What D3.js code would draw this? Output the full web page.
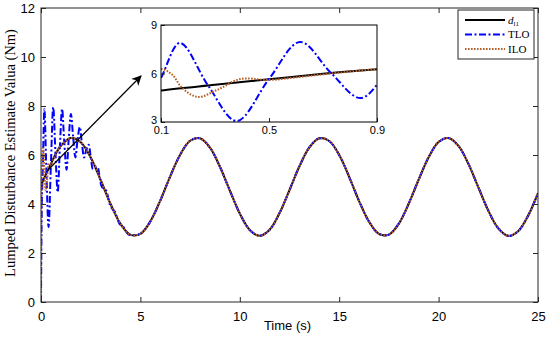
<!DOCTYPE html>
<html>
<head>
<meta charset="utf-8">
<script src="https://cdn.jsdelivr.net/npm/d3@7"></script>
<style>
  body { margin: 0; background: #fff; }
  svg { display: block; }
  .tick text { font-family: "Liberation Sans", Arial, sans-serif; fill: #000; }
  .tick line { stroke: #262626; }
</style>
</head>
<body>
<div id="vis"></div>
<script>
// 1. DATA ---------------------------------------------------------------------------------

// reference disturbance d_l1
const dTime  = [0, 0.1, 0.3, 0.5, 0.7, 0.9].concat(d3.range(1, 25.01, 0.5))
const dValue = [4.72, 4.95, 5.30, 5.64, 5.98, 6.27,
  6.38, 6.69, 6.52, 5.90, 4.98, 4.00, 3.19, 2.74, 2.78, 3.29,
  4.14, 5.13, 6.01, 6.58, 6.68, 6.30, 5.52, 4.55, 3.61, 2.94,
  2.70, 2.95, 3.63, 4.57, 5.54, 6.31, 6.68, 6.57, 6.00, 5.11,
  4.12, 3.28, 2.78, 2.75, 3.20, 4.02, 5.00, 5.91, 6.53, 6.69,
  6.37, 5.64, 4.68, 3.73, 3.01, 2.70, 2.89, 3.52, 4.44]

// TLO estimate, transient part (afterwards it sits on d)
const tloTime  = [0, 0.02, 0.05, 0.1, 0.17, 0.275, 0.38, 0.5, 0.615, 0.73, 0.84, 0.95,
  1.06, 1.17, 1.285, 1.395, 1.505, 1.62, 1.73, 1.84, 1.95, 2.06, 2.17, 2.28,
  2.395, 2.505, 2.615, 2.73, 2.84, 2.95, 3.06, 3.17, 3.285, 3.395, 3.505, 3.62,
  3.73, 3.84, 3.95, 4.06, 4.175, 4.285, 4.395, 4.5]
const tloValue = [0, 2.5, 4.3, 5.72, 7.89, 5.24, 3.06, 5.66, 7.95, 6.03, 4.48, 6.33,
  7.88, 6.54, 5.40, 6.67, 7.67, 6.70, 5.90, 6.63, 7.14, 6.46, 5.90, 6.22,
  6.42, 5.89, 5.42, 5.50, 5.51, 5.08, 4.70, 4.64, 4.54, 4.20, 3.89, 3.77,
  3.67, 3.40, 3.19, 3.11, 3.03, 2.88, 2.76, 2.74]

// ILO estimate, transient part
const iloTime  = [0, 0.01, 0.03, 0.06, 0.1, 0.14, 0.18, 0.237, 0.31, 0.393, 0.5, 0.6, 0.7, 0.8, 0.9, 1]
const iloValue = [0, 2.0, 4.6, 6.0, 6.28, 5.95, 5.08, 4.55, 5.0, 5.66, 5.6, 5.76, 5.95, 6.12, 6.27, 6.38]

const xTicks = [0, 5, 10, 15, 20, 25]
const yTicks = [0, 2, 4, 6, 8, 10, 12]
const insetXTicks = [0.1, 0.5, 0.9]
const insetYTicks = [3, 6, 9]

// 2. SETUP -------------------------------------------------------------------------
const W = 550, H = 337
const plot  = { left: 41, right: 538, top: 8, bottom: 302 }
const inset = { left: 161, right: 377, top: 25, bottom: 122 }

const zip = (ts, vs) => ts.map((t, i) => ({ t: t, v: vs[i] }))
const dPts   = zip(dTime, dValue)
const tloPts = zip(tloTime, tloValue).concat(dPts.filter(p => p.t >= 5))
const iloPts = zip(iloTime, iloValue).concat(dPts.filter(p => p.t >= 1.5))

const series = [
  { key: "d",   pts: dPts,   color: "#000",    width: 2, dash: null },
  { key: "TLO", pts: tloPts, color: "#0000ff", width: 2, dash: "7,2.5,2,2.5" },
  { key: "ILO", pts: iloPts, color: "#b8602a", width: 2, dash: "1.6,1.4" }
]

const svg = d3.select("#vis").append("svg")
  .attr("width", W)
  .attr("height", H)

const defs = svg.append("defs")
defs.append("clipPath").attr("id", "clipMain").append("rect")
  .attr("x", plot.left).attr("y", plot.top)
  .attr("width", plot.right - plot.left).attr("height", plot.bottom - plot.top)
defs.append("clipPath").attr("id", "clipInset").append("rect")
  .attr("x", inset.left).attr("y", inset.top)
  .attr("width", inset.right - inset.left).attr("height", inset.bottom - inset.top)
defs.append("marker")
  .attr("id", "arrowHead")
  .attr("viewBox", "0 0 10 10")
  .attr("refX", 9).attr("refY", 5)
  .attr("markerWidth", 10).attr("markerHeight", 10)
  .attr("markerUnits", "userSpaceOnUse")
  .attr("orient", "auto")
  .append("path")
  .attr("d", "M0,0 L10,5 L0,10 L3,5 Z")
  .attr("fill", "#000")

// 3. MAIN PLOT -------------------------------------------------------------------------
const x = d3.scaleLinear().domain([0, 25]).range([plot.left, plot.right])
const y = d3.scaleLinear().domain([0, 12]).range([plot.bottom, plot.top])

const drawLines = (g, xs, ys, clip) => {
  const line = d3.line().x(p => xs(p.t)).y(p => ys(p.v)).curve(d3.curveCatmullRom.alpha(0.5))
  g.append("g").attr("clip-path", `url(#${clip})`)
    .selectAll("path")
    .data(series)
    .join("path")
    .attr("d", s => line(s.pts))
    .attr("fill", "none")
    .attr("stroke", s => s.color)
    .attr("stroke-width", s => s.width)
    .attr("stroke-dasharray", s => s.dash)
}

const mainG = svg.append("g")
drawLines(mainG, x, y, "clipMain")

// axes, ticks pointing inward
const axisStyle = g => g.call(a => a.select(".domain").remove())

svg.append("g")
  .attr("transform", `translate(0,${plot.bottom})`)
  .call(d3.axisBottom(x).tickValues(xTicks).tickSize(-5).tickPadding(9.5))
  .call(axisStyle)
  .selectAll("text").style("font-size", "13px")
svg.append("g")
  .attr("transform", `translate(0,${plot.top})`)
  .call(d3.axisTop(x).tickValues(xTicks).tickSize(-5).tickFormat(""))
  .call(axisStyle)
svg.append("g")
  .attr("transform", `translate(${plot.left},0)`)
  .call(d3.axisLeft(y).tickValues(yTicks).tickSize(-5).tickPadding(6))
  .call(axisStyle)
  .selectAll("text").style("font-size", "13px")
svg.append("g")
  .attr("transform", `translate(${plot.right},0)`)
  .call(d3.axisRight(y).tickValues(yTicks).tickSize(-5).tickFormat(""))
  .call(axisStyle)

svg.append("rect")
  .attr("x", plot.left).attr("y", plot.top)
  .attr("width", plot.right - plot.left).attr("height", plot.bottom - plot.top)
  .attr("fill", "none").attr("stroke", "#262626").attr("stroke-width", 1)

svg.append("text")
  .attr("x", 287.5).attr("y", 330)
  .attr("text-anchor", "middle")
  .style("font-family", "Liberation Sans, Arial, sans-serif")
  .style("font-size", "13px")
  .text("Time (s)")

svg.append("text")
  .attr("transform", "translate(15,153) rotate(-90)")
  .attr("text-anchor", "middle")
  .style("font-family", "Liberation Serif, Times New Roman, serif")
  .style("font-size", "14.5px")
  .text("Lumped Disturbance Estimate Valua (Nm)")

// 4. ZOOM ARROW + INSET -------------------------------------------------------------------------
svg.append("line")
  .attr("x1", 47).attr("y1", 171)
  .attr("x2", 141).attr("y2", 76)
  .attr("stroke", "#000").attr("stroke-width", 1.2)
  .attr("marker-end", "url(#arrowHead)")

const xi = d3.scaleLinear().domain([0.1, 0.9]).range([inset.left, inset.right])
const yi = d3.scaleLinear().domain([3, 9]).range([inset.bottom, inset.top])

svg.append("rect")
  .attr("x", inset.left).attr("y", inset.top)
  .attr("width", inset.right - inset.left).attr("height", inset.bottom - inset.top)
  .attr("fill", "#fff")

const insetG = svg.append("g")
drawLines(insetG, xi, yi, "clipInset")

svg.append("g")
  .attr("transform", `translate(0,${inset.bottom})`)
  .call(d3.axisBottom(xi).tickValues(insetXTicks).tickSize(-4).tickPadding(4))
  .call(axisStyle)
  .selectAll("text").style("font-size", "11px")
svg.append("g")
  .attr("transform", `translate(${inset.left},0)`)
  .call(d3.axisLeft(yi).tickValues(insetYTicks).tickSize(-4).tickPadding(4).tickFormat(d3.format("d")))
  .call(axisStyle)
  .selectAll("text").style("font-size", "11px")
  .attr("y", d => d === 3 ? -2.5 : 0)

svg.append("rect")
  .attr("x", inset.left).attr("y", inset.top)
  .attr("width", inset.right - inset.left).attr("height", inset.bottom - inset.top)
  .attr("fill", "none").attr("stroke", "#000").attr("stroke-width", 1)

// 5. LEGEND -------------------------------------------------------------------------
const legend = svg.append("g").attr("transform", "translate(458,10)")
legend.append("rect")
  .attr("width", 76).attr("height", 49)
  .attr("fill", "#fff").attr("stroke", "#262626").attr("stroke-width", 1)

const rows = legend.selectAll("g.row")
  .data(series)
  .join("g")
  .attr("class", "row")
  .attr("transform", (s, i) => `translate(0,${10 + i * 14.5})`)

rows.append("line")
  .attr("x1", 7).attr("x2", 47)
  .attr("stroke", s => s.color)
  .attr("stroke-width", s => s.width)
  .attr("stroke-dasharray", s => s.dash)

rows.append("text")
  .attr("x", 50).attr("y", 3.8)
  .style("font-family", "Liberation Serif, Times New Roman, serif")
  .style("font-size", "11px")
  .each(function(s) {
    const t = d3.select(this)
    if (s.key === "d") {
      t.append("tspan").style("font-style", "italic").text("d")
      t.append("tspan").attr("dy", 2.5).style("font-size", "7px").text("l1")
    } else {
      t.text(s.key)
    }
  })
</script>
</body>
</html>
